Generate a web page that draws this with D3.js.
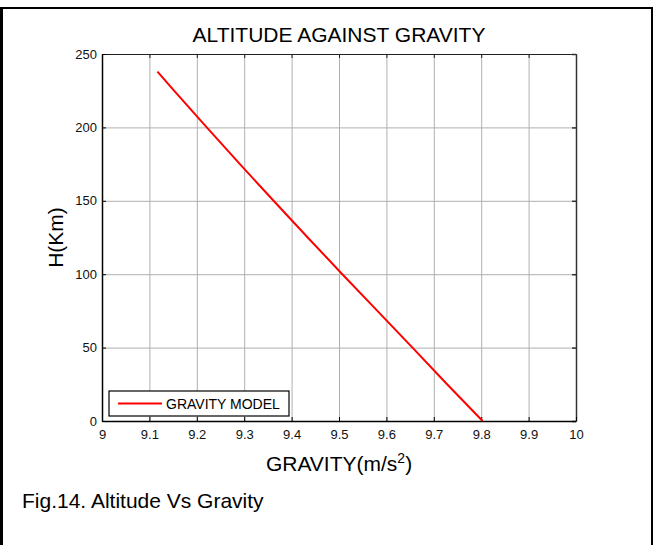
<!DOCTYPE html>
<html>
<head>
<meta charset="utf-8">
<script src="https://cdn.jsdelivr.net/npm/d3@7"></script>
<style>
  body { margin: 0; background: #fff; }
  svg { display: block; font-family: Arial, "Liberation Sans", sans-serif; }
</style>
</head>
<body>
<svg id="chart"></svg>
<script>
// values
var gravity  = [9.803, 9.728, 9.655, 9.581, 9.507, 9.434, 9.362, 9.291, 9.221, 9.152, 9.117];
var altitude = [0, 25, 50, 75, 100, 125, 150, 175, 200, 225, 238];
var xTicks = [9, 9.1, 9.2, 9.3, 9.4, 9.5, 9.6, 9.7, 9.8, 9.9, 10];
var yTicks = [0, 50, 100, 150, 200, 250];
var seriesName = "GRAVITY MODEL";

var fontFam = "Arial, 'Liberation Sans', sans-serif";
var outerWidth = 654;
var outerHeight = 545;
var margin = { left: 102, top: 54, right: 78, bottom: 124 };
var innerWidth  = outerWidth  - margin.left - margin.right;
var innerHeight = outerHeight - margin.top  - margin.bottom;

var svg = d3.select("#chart")
  .attr("width",  outerWidth)
  .attr("height", outerHeight);

// figure frame
svg.append("line").attr("x1", 1.5).attr("x2", 1.5).attr("y1", 7).attr("y2", outerHeight)
  .attr("stroke", "#000").attr("stroke-width", 3);
svg.append("line").attr("x1", 0).attr("x2", 653).attr("y1", 8).attr("y2", 8)
  .attr("stroke", "#000").attr("stroke-width", 2);
svg.append("line").attr("x1", 652).attr("x2", 652).attr("y1", 7).attr("y2", outerHeight)
  .attr("stroke", "#000").attr("stroke-width", 2);

var g = svg.append("g")
  .attr("transform", "translate(" + margin.left + "," + margin.top + ")");

var xScale = d3.scaleLinear().domain([9, 10]).range([0, innerWidth]);
var yScale = d3.scaleLinear().domain([0, 250]).range([innerHeight, 0]);

function noLabels(s) { s.selectAll("text").remove(); }

// grid
g.append("g")
  .attr("class", "xgrid")
  .attr("transform", "translate(0," + innerHeight + ")")
  .call(d3.axisBottom(xScale).tickValues(xTicks).tickSize(-innerHeight))
  .call(noLabels)
  .call(function (s) { s.select(".domain").remove(); })
  .selectAll("line").attr("stroke", "#b0b0b0");
g.append("g")
  .attr("class", "ygrid")
  .call(d3.axisLeft(yScale).tickValues(yTicks).tickSize(-innerWidth))
  .call(noLabels)
  .call(function (s) { s.select(".domain").remove(); })
  .selectAll("line").attr("stroke", "#b0b0b0");

// box (top/right) with inward ticks
g.append("g")
  .call(d3.axisTop(xScale).tickValues(xTicks).tickSizeInner(-4).tickSizeOuter(0))
  .call(noLabels)
  .call(function (s) { s.selectAll("path,line").attr("stroke", "#222"); });
g.append("g")
  .attr("transform", "translate(" + innerWidth + ",0)")
  .call(d3.axisRight(yScale).tickValues(yTicks).tickSizeInner(-4).tickSizeOuter(0))
  .call(noLabels)
  .call(function (s) { s.selectAll("path,line").attr("stroke", "#333").attr("stroke-width", 1.5); });

// bottom and left axes
var xAxisG = g.append("g")
  .attr("class", "xaxis")
  .attr("transform", "translate(0," + innerHeight + ")")
  .call(d3.axisBottom(xScale).tickValues(xTicks).tickSizeInner(-4).tickSizeOuter(0)
    .tickPadding(9).tickFormat(d3.format("")))
  .attr("font-family", fontFam)
  .attr("font-size", 13);
xAxisG.select(".domain").attr("stroke", "#000").attr("stroke-width", 1.5);
xAxisG.selectAll("text").attr("fill", "#111");

var yAxisG = g.append("g")
  .attr("class", "yaxis")
  .call(d3.axisLeft(yScale).tickValues(yTicks).tickSizeInner(-4).tickSizeOuter(0).tickPadding(5))
  .attr("font-family", fontFam)
  .attr("font-size", 13);
yAxisG.select(".domain").attr("stroke", "#000").attr("stroke-width", 1.5);
yAxisG.selectAll("text").attr("fill", "#111");

// data line
var points = gravity.map(function (d, i) { return { g: d, h: altitude[i] }; });
var line = d3.line()
  .x(function (d) { return xScale(d.g); })
  .y(function (d) { return yScale(d.h); });
g.append("path")
  .datum(points)
  .attr("d", line)
  .attr("fill", "none")
  .attr("stroke", "#ff0000")
  .attr("stroke-width", 2);

// legend
var legend = g.append("g").attr("transform", "translate(7," + (innerHeight - 30) + ")");
legend.append("rect")
  .attr("width", 180).attr("height", 25)
  .attr("fill", "#fff").attr("stroke", "#000").attr("stroke-width", 1.2);
legend.append("line")
  .attr("x1", 9).attr("x2", 53).attr("y1", 12.5).attr("y2", 12.5)
  .attr("stroke", "#ff0000").attr("stroke-width", 2);
legend.append("text")
  .attr("x", 57).attr("y", 18)
  .style("font-size", "14px")
  .text(seriesName);

// titles
svg.append("text")
  .attr("x", margin.left + innerWidth / 2).attr("y", 42)
  .attr("text-anchor", "middle")
  .style("font-size", "21px")
  .text("ALTITUDE AGAINST GRAVITY");

var xLabel = svg.append("text")
  .attr("x", margin.left + innerWidth / 2).attr("y", 471)
  .attr("text-anchor", "middle")
  .style("font-size", "21px");
xLabel.append("tspan").text("GRAVITY(m/s");
xLabel.append("tspan").attr("dy", -8).style("font-size", "14px").text("2");
xLabel.append("tspan").attr("dy", 8).text(")");

svg.append("text")
  .attr("transform", "translate(63," + (margin.top + innerHeight / 2) + ") rotate(-90)")
  .attr("text-anchor", "middle")
  .style("font-size", "21px")
  .text("H(Km)");

svg.append("text")
  .attr("x", 22).attr("y", 508)
  .style("font-size", "21px")
  .text("Fig.14. Altitude Vs Gravity");
</script>
</body>
</html>
